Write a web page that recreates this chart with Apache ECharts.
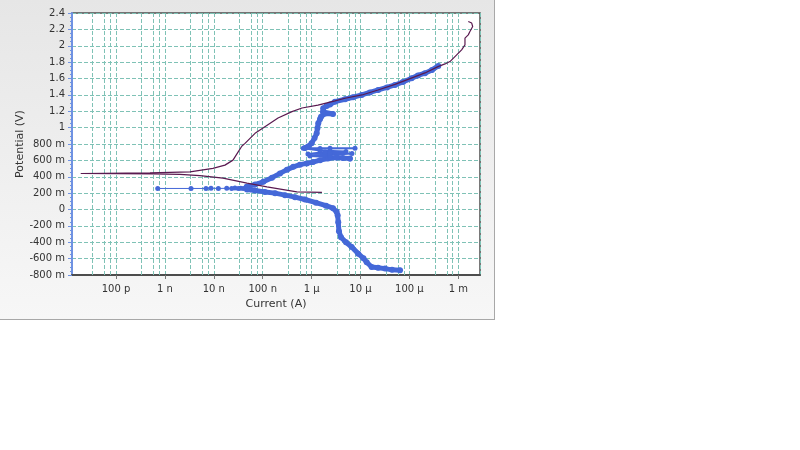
<!DOCTYPE html>
<html>
<head>
<meta charset="utf-8">
<script src="https://cdn.jsdelivr.net/npm/echarts@6/dist/echarts.min.js"></script>
<style>
  html, body { margin: 0; padding: 0; background: #fff; }
  #panel { position: absolute; left: 0; top: 0; width: 494px; height: 319px;
           background: linear-gradient(to bottom, #e6e6e6, #f7f7f7);
           border-right: 1px solid #a8a8a8; border-bottom: 1px solid #a8a8a8; }
  #chart { position: absolute; left: 0; top: 0; width: 800px; height: 450px; }
</style>
</head>
<body>
<div id="panel"></div>
<div id="chart"></div>
<script>
// 坐标轴刻度
const xTickExponents = [-10, -9, -8, -7, -6, -5, -4, -3];
const xTickLabels = ["100 p", "1 n", "10 n", "100 n", "1 μ", "10 μ", "100 μ", "1 m"];
const xMinorFactors = [3.3, 5.75, 7.6];

// 紫色细线：[电流 A, 电位 V]
const purpleCurve = [
    [1.63e-6, 0.208], [5.0e-7, 0.215], [1.22e-7, 0.277], [4.78e-8, 0.322], [1.54e-8, 0.383],
    [5.2e-9, 0.414], [2.04e-9, 0.428], [5.7e-10, 0.435], [1.9e-11, 0.44], [4.95e-10, 0.447],
    [3.26e-9, 0.46], [9.6e-9, 0.502], [1.69e-8, 0.542], [2.47e-8, 0.603], [3.13e-8, 0.701],
    [3.77e-8, 0.775], [4.35e-8, 0.808], [6.97e-8, 0.93], [1.11e-7, 1.011], [2.06e-7, 1.117],
    [3.97e-7, 1.195], [6.37e-7, 1.24], [1.35e-6, 1.275], [3.01e-6, 1.326], [4.83e-6, 1.359],
    [1.07e-5, 1.399], [2.28e-5, 1.46], [5.08e-5, 1.528], [1.13e-4, 1.607], [2.08e-4, 1.668],
    [3.85e-4, 1.745], [5.35e-4, 1.778], [6.76e-4, 1.807], [9.27e-4, 1.889], [1.17e-3, 1.95],
    [1.37e-3, 2.011], [1.37e-3, 2.093], [1.6e-3, 2.133], [1.73e-3, 2.174], [1.97e-3, 2.235],
    [1.88e-3, 2.277], [1.6e-3, 2.296]
];

// 蓝色阴极段（密集）
const blueCathodic = [
    [6.43e-5, -0.743], [4.41e-5, -0.737], [3.17e-5, -0.722], [2.28e-5, -0.712], [1.69e-5, -0.703],
    [1.34e-5, -0.645], [1.15e-5, -0.596], [9.0e-6, -0.539], [6.61e-6, -0.458], [5.05e-6, -0.4],
    [3.99e-6, -0.339], [3.63e-6, -0.266], [3.51e-6, -0.155], [3.41e-6, -0.07], [3.25e-6, -0.029],
    [2.74e-6, 0.016], [1.97e-6, 0.047], [1.23e-6, 0.083], [7.33e-7, 0.122], [4.58e-7, 0.151],
    [2.86e-7, 0.175], [1.79e-7, 0.2], [1.11e-7, 0.215], [6.97e-8, 0.233], [4.78e-8, 0.245]
];

// 腐蚀电位附近的稀疏点
const blueNearZero = [
    [4.78e-8, 0.245], [4.01e-8, 0.255], [3.55e-8, 0.26], [3.17e-8, 0.257], [2.71e-8, 0.262],
    [2.32e-8, 0.255], [1.84e-8, 0.259], [1.24e-8, 0.257], [8.76e-9, 0.261], [6.92e-9, 0.257],
    [3.42e-9, 0.257], [7.13e-10, 0.257]
];

// 蓝色阳极段（密集）
const blueAnodicLow = [
    [4.71e-8, 0.277], [6.97e-8, 0.304], [1.03e-7, 0.338], [1.55e-7, 0.389], [2.26e-7, 0.441],
    [3.14e-7, 0.487], [4.23e-7, 0.521], [5.79e-7, 0.548], [7.94e-7, 0.563], [1.07e-6, 0.579],
    [1.49e-6, 0.603], [2.17e-6, 0.622], [3.26e-6, 0.634], [4.38e-6, 0.628], [6.09e-6, 0.624]
];

// 0.6 ~ 0.75 V 的噪声段
const blueNoise = [
    [6.09e-6, 0.616], [2.38e-6, 0.64], [9.27e-7, 0.652], [2.38e-6, 0.665], [6.7e-6, 0.683],
    [2.38e-6, 0.689], [8.44e-7, 0.677], [1.88e-6, 0.701], [5.05e-6, 0.707], [1.49e-6, 0.72],
    [6.76e-7, 0.747], [2.38e-6, 0.747], [7.73e-6, 0.747], [1.49e-6, 0.744], [7.33e-7, 0.75]
];

const blueAnodicHigh = [
    [7.33e-7, 0.75], [8.44e-7, 0.769], [1.0e-6, 0.808], [1.15e-6, 0.873], [1.27e-6, 0.93],
    [1.32e-6, 0.995], [1.37e-6, 1.053], [1.49e-6, 1.105], [1.56e-6, 1.133], [1.88e-6, 1.173],
    [2.74e-6, 1.166], [1.71e-6, 1.191], [1.73e-6, 1.236], [2.03e-6, 1.265], [2.38e-6, 1.283],
    [3.01e-6, 1.317], [4.82e-6, 1.346], [7.03e-6, 1.371], [1.06e-5, 1.399], [1.56e-5, 1.43],
    [2.31e-5, 1.46], [3.48e-5, 1.491], [5.08e-5, 1.521], [7.4e-5, 1.558], [1.11e-4, 1.603],
    [1.5e-4, 1.638], [2.08e-4, 1.665], [2.9e-4, 1.705], [3.9e-4, 1.754]
];

const xMin = 1.26e-11;
const xMax = 2.78e-3;
const yMin = -0.8;
const yMax = 2.4;
const gridColor = "#7fc2b6";
const blue = "#4468d8";
const purple = "#5a1a50";
const font = "'DejaVu Sans', sans-serif";

// 次级竖向网格线位置
const minorLines = [];
for (let e = -11; e <= -3; e++) {
    for (const f of xMinorFactors) {
        const v = f * Math.pow(10, e);
        if (v > xMin && v < xMax) minorLines.push([v]);
    }
}

function xLabel(value) {
    const exp = Math.log10(value);
    const idx = xTickExponents.findIndex(e => Math.abs(e - exp) < 1e-6);
    return idx >= 0 ? xTickLabels[idx] : "";
}

function yLabel(value) {
    if (value !== 0 && Math.abs(value) < 0.999) return Math.round(value * 1000) + " m";
    return String(+value.toFixed(1));
}

function bandSeries(data, width, size) {
    return {
        type: "line", data: data, z: 3,
        symbol: "circle", symbolSize: size, showSymbol: true,
        itemStyle: { color: blue },
        lineStyle: { color: blue, width: width, cap: "round", join: "round" }
    };
}

// 画次级竖线
function renderMinorLine(params, api) {
    const top = api.coord([api.value(0), yMax]);
    const bottom = api.coord([api.value(0), yMin]);
    const x = Math.round(top[0]) + 0.5;
    return {
        type: "line",
        shape: { x1: x, y1: top[1], x2: x, y2: bottom[1] },
        style: { stroke: gridColor, lineWidth: 1, lineDash: [4, 2] },
        silent: true
    };
}

const chart = echarts.init(document.getElementById("chart"), null, { renderer: "canvas" });
chart.setOption({
    animation: false,
    backgroundColor: "transparent",
    textStyle: { fontFamily: font },
    grid: {
        left: 72, top: 13, right: 320, bottom: 175,
        show: true, backgroundColor: "#fff", borderColor: "#4d4d4d", borderWidth: 1.5
    },
    xAxis: {
        type: "log", logBase: 10, min: xMin, max: xMax,
        name: "Current (A)", nameLocation: "middle", nameGap: 21,
        nameTextStyle: { color: "#333", fontSize: 11, fontFamily: font },
        axisLine: { onZero: false, lineStyle: { color: "#4d4d4d", width: 2 } },
        axisTick: { show: true, length: 4, lineStyle: { color: "#777" } },
        axisLabel: { color: "#333", fontSize: 10, margin: 9, formatter: xLabel, showMinLabel: false, showMaxLabel: false },
        splitLine: { show: true, lineStyle: { color: gridColor, type: [4, 2], width: 1 } }
    },
    yAxis: {
        type: "value", min: yMin, max: yMax, interval: 0.2,
        name: "Potential (V)", nameLocation: "middle", nameGap: 46, nameRotate: 90,
        nameMoveOverlap: false,
        nameTextStyle: { color: "#333", fontSize: 11, fontFamily: font },
        axisLine: { show: true, onZero: false, lineStyle: { color: "#6f92e2", width: 2 } },
        axisTick: { show: true, length: 4, lineStyle: { color: "#6f92e2" } },
        minorTick: { show: true, splitNumber: 4, length: 2, lineStyle: { color: "#6f92e2" } },
        axisLabel: { color: "#333", fontSize: 10, margin: 7, formatter: yLabel },
        splitLine: { show: true, lineStyle: { color: gridColor, type: [4, 2], width: 1 } }
    },
    series: [
        {
            type: "custom", data: minorLines, z: 1, silent: true,
            encode: { x: 0 }, renderItem: renderMinorLine
        },
        bandSeries(blueCathodic, 5, 6),
        bandSeries(blueNearZero, 1, 5),
        bandSeries(blueAnodicLow, 5, 6),
        bandSeries(blueNoise, 2, 5),
        bandSeries(blueAnodicHigh, 5, 6),
        {
            type: "line", data: purpleCurve, z: 4, showSymbol: false, symbol: "none",
            lineStyle: { color: purple, width: 1.2 }
        }
    ]
});
</script>
</body>
</html>
